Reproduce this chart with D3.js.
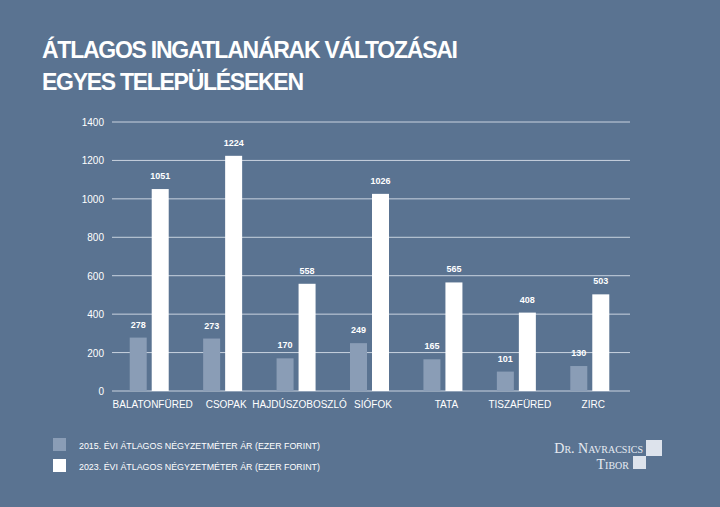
<!DOCTYPE html>
<html><head><meta charset="utf-8">
<script src="https://cdn.jsdelivr.net/npm/d3@7"></script>
<style>
body{margin:0;background:#5a7391;}
svg{display:block;font-family:"Liberation Sans",Arial,sans-serif;}
</style></head><body>
<div id="chart"></div>
<script>
const cities = ['BALATONFÜRED', 'CSOPAK', 'HAJDÚSZOBOSZLÓ', 'SIÓFOK', 'TATA', 'TISZAFÜRED', 'ZIRC'];
const values2015 = [278, 273, 170, 249, 165, 101, 130];
const values2023 = [1051, 1224, 558, 1026, 565, 408, 503];
const yTicks = [0, 200, 400, 600, 800, 1000, 1200, 1400];
const seriesNames = ['2015. ÉVI ÁTLAGOS NÉGYZETMÉTER ÁR (EZER FORINT)', '2023. ÉVI ÁTLAGOS NÉGYZETMÉTER ÁR (EZER FORINT)'];

const width = 720, height = 507;
const svg = d3.select('#chart').append('svg').attr('width', width).attr('height', height);
svg.append('rect').attr('width', width).attr('height', height).attr('fill', '#5a7391');

// Title
svg.append('text').attr('x', 42).attr('y', 58).attr('fill', '#fff')
    .attr('font-size', 23).attr('font-weight', 'bold').attr('textLength', 416)
    .text('ÁTLAGOS INGATLANÁRAK VÁLTOZÁSAI');
svg.append('text').attr('x', 42).attr('y', 90).attr('fill', '#fff')
    .attr('font-size', 23).attr('font-weight', 'bold').attr('textLength', 262)
    .text('EGYES TELEPÜLÉSEKEN');

const x = d3.scaleBand().domain(cities).range([116, 630]);
const y = d3.scaleLinear().domain([0, 1400]).range([391, 122]);

// Grid
svg.append('g').selectAll('line').data(yTicks).enter().append('line')
    .attr('x1', 112).attr('x2', 630)
    .attr('y1', d => y(d)).attr('y2', d => y(d))
    .attr('stroke', '#c9d3df').attr('stroke-width', 1);
svg.append('g').selectAll('text').data(yTicks).enter().append('text')
    .attr('x', 104).attr('y', d => y(d) + 4).attr('text-anchor', 'end')
    .attr('fill', '#fff').attr('font-size', 10).text(d => d);

const bw = 17;
const g = svg.append('g');
cities.forEach((c, i) => {
    const cx = x(c) + x.bandwidth() / 2 - 4;
    const bars = [
        { v: values2015[i], x0: cx - bw - 2, fill: '#8a9db6' },
        { v: values2023[i], x0: cx + 3, fill: '#ffffff' }
    ];
    bars.forEach(b => {
        g.append('rect').attr('x', b.x0).attr('y', y(b.v)).attr('width', bw)
            .attr('height', y(0) - y(b.v)).attr('fill', b.fill);
        g.append('text').attr('x', b.x0 + bw / 2).attr('y', y(b.v) - 10)
            .attr('text-anchor', 'middle').attr('fill', '#fff')
            .attr('font-size', 9).attr('font-weight', 'bold').text(b.v);
    });
    g.append('text').attr('x', x(c) + x.bandwidth() / 2).attr('y', 408)
        .attr('text-anchor', 'middle').attr('fill', '#fff').attr('font-size', 10)
        .text(c);
});

// Legend
const legendColors = ['#8a9db6', '#ffffff'];
seriesNames.forEach((s, i) => {
    svg.append('rect').attr('x', 53).attr('y', 438 + i * 21).attr('width', 13).attr('height', 13)
        .attr('fill', legendColors[i]);
    svg.append('text').attr('x', 79).attr('y', 449 + i * 21).attr('fill', '#fff')
        .attr('font-size', 9.5).attr('textLength', 241).attr('lengthAdjust', 'spacingAndGlyphs').text(s);
});

// Logo
svg.append('rect').attr('x', 646).attr('y', 440).attr('width', 16).attr('height', 16).attr('fill', '#dde3ec');
svg.append('rect').attr('x', 633).attr('y', 456).attr('width', 13).attr('height', 13).attr('fill', '#dde3ec');
svg.append('text').attr('x', 643).attr('y', 453).attr('text-anchor', 'end').attr('fill', '#e6ebf2')
    .attr('font-family', '"Liberation Serif",serif').attr('font-size', 14).attr('font-variant', 'small-caps')
    .text('Dr. Navracsics');
svg.append('text').attr('x', 629).attr('y', 469).attr('text-anchor', 'end').attr('fill', '#e6ebf2')
    .attr('font-family', '"Liberation Serif",serif').attr('font-size', 14).attr('font-variant', 'small-caps')
    .text('Tibor');
</script>
</body></html>
